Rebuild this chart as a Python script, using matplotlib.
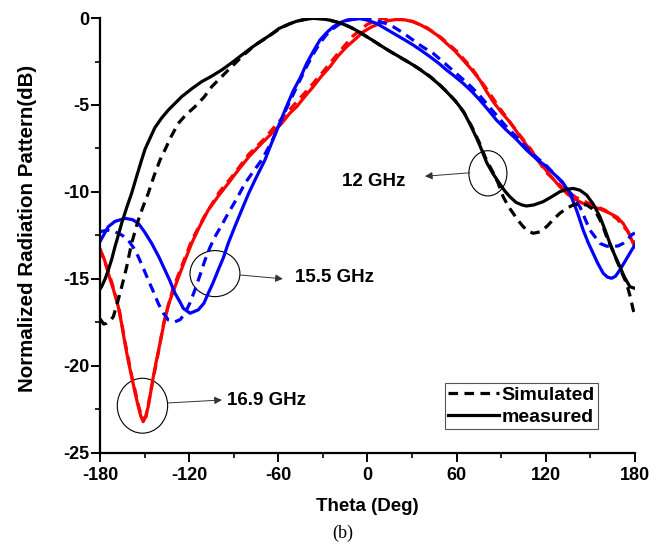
import matplotlib
matplotlib.use("Agg")
import matplotlib.pyplot as plt
from matplotlib.patches import Ellipse
from matplotlib.lines import Line2D

plt.rcParams['font.family'] = ['Liberation Sans', 'DejaVu Sans']
plt.rcParams['font.weight'] = 'bold'
plt.rcParams['axes.unicode_minus'] = False

# ---- data ----
theta_12_meas = [-180, -178.9, -176.5, -174.4, -172, -169.9, -167.5, -165.4, -162, -158.7, -155.3, -152, -149.7, -146, -143, -138.5, -134, -130, -125,
                 -118, -111.6, -105, -98.1, -91, -84.6, -78, -71.2, -65, -59.5, -53, -47.6, -42, -36.5, -31, -25.2, -20, -14, -8, -2.8,
                 3, 8.4, 14, 19.6, 25, 30.8, 36, 42.1, 48, 53.3, 59, 64.5, 69, 73.5, 77, 80.2, 84.5, 89.2, 92.5, 95.9, 100, 104, 107.1,
                 112, 118.3, 124, 129.5, 134, 138.5, 143, 147.5, 152, 156.5, 160, 163.2, 166.5, 169.9, 173, 176.6, 180]
db_12_meas = [-15.6, -15.45, -15.0, -14.5, -13.85, -13.15, -12.45, -11.8, -10.9, -10.08, -9.1, -8.17, -7.55, -6.85, -6.3, -5.75, -5.29, -4.95, -4.52,
              -4.05, -3.66, -3.35, -2.99, -2.55, -2.13, -1.7, -1.3, -0.95, -0.6, -0.35, -0.18, -0.07, -0.02, -0.04, -0.12, -0.24, -0.42, -0.68, -0.95,
              -1.25, -1.55, -1.85, -2.13, -2.4, -2.7, -3.0, -3.37, -3.8, -4.24, -4.75, -5.35, -6.1, -6.9, -7.6, -8.3, -8.95, -9.55, -9.95, -10.28, -10.6, -10.75, -10.81,
              -10.75, -10.56, -10.28, -9.99, -9.85, -9.8, -9.9, -10.18, -10.7, -11.43, -12.2, -12.96, -13.65, -14.3, -14.9, -15.45, -15.55]

theta_12_sim = [-180, -177.5, -175.5, -173, -171, -168.7, -166.5, -164, -162, -160.3, -158.7, -156.5, -154.2, -151, -147.5, -143.5, -139.6, -136.3, -132,
                -127.3, -122, -116.1, -110, -104.8, -99, -93.7, -89, -84.6, -80, -75.7, -70, -64, -58, -52, -46, -40, -35, -30, -24, -18, -12, -6,
                0, 6, 12, 18, 24, 30, 36, 42, 48, 54, 60, 65, 70, 75, 80, 85, 88, 91.4, 95, 98.1, 101.5, 104.9, 108, 111.6, 116, 120.6, 125,
                129.5, 134, 138.5, 143, 147.5, 151, 154.2, 158, 161, 164.5, 167.7, 171, 174.4, 176.8, 178.9, 180]
db_12_sim = [-17.3, -17.6, -17.56, -17.4, -17.18, -16.5, -15.83, -15.0, -14.3, -13.6, -12.96, -12.3, -11.62, -10.85, -10.08, -9.05, -8.17, -7.59, -6.8,
             -6.06, -5.55, -5.1, -4.55, -3.95, -3.45, -2.99, -2.6, -2.22, -1.88, -1.55, -1.25, -0.9, -0.55, -0.32, -0.15, -0.05, -0.01, -0.05, -0.15, -0.3, -0.5, -0.75,
             -1.1, -1.42, -1.75, -2.06, -2.36, -2.65, -2.98, -3.35, -3.78, -4.28, -4.85, -5.45, -6.2, -7.1, -8.15, -8.95, -9.5, -10.28, -10.85, -11.23, -11.65, -12.0, -12.25, -12.38, -12.3, -12.0, -11.6,
             -11.23, -10.95, -10.75, -10.7, -10.75, -10.95, -11.23, -11.85, -12.58, -13.25, -13.92, -14.6, -15.26, -16.0, -16.79, -17.1]

theta_155_meas = [-180, -174.4, -170, -163.2, -158, -154.2, -150, -145.2, -140, -136.3, -133, -129.5, -126, -123.9, -119.4, -113.9, -110, -107.1, -104,
                  -100.4, -97, -93.7, -89, -84.6, -80, -75.7, -69, -65, -60, -55, -50, -45, -40.9, -36, -32, -27, -23, -18, -14, -5,
                  0, 6.2, 12, 19.6, 25, 30.8, 36, 42.1, 48, 53.3, 58, 64.5, 70, 75.7, 81, 86.9, 93, 100, 107.1, 115, 120, 125.1, 131,
                  136.3, 141, 145.2, 148.5, 151.9, 155, 158.7, 161.5, 164.3, 167, 169.9, 173, 176.6, 180]
db_155_meas = [-12.86, -12.0, -11.7, -11.52, -11.6, -11.81, -12.3, -12.96, -13.8, -14.49, -15.1, -15.83, -16.35, -16.7, -16.98, -16.79, -16.4, -15.83, -15.25,
               -14.49, -13.8, -12.96, -11.95, -11.04, -10.1, -9.32, -8.17, -7.3, -6.25, -5.2, -4.2, -3.4, -2.61, -1.85, -1.27, -0.8, -0.5, -0.25, -0.12, -0.03,
               -0.12, -0.31, -0.6, -0.98, -1.25, -1.55, -1.85, -2.22, -2.6, -2.99, -3.3, -3.76, -4.2, -4.72, -5.25, -5.87, -6.4, -6.95, -7.59, -8.2, -8.5, -8.93, -9.4,
               -10.08, -11.1, -12.19, -12.9, -13.53, -14.1, -14.68, -14.9, -14.97, -14.85, -14.49, -14.05, -13.53, -13.05]

theta_155_sim = [-180, -175, -169.9, -165, -161, -157.5, -154.2, -151, -147.5, -144, -140.8, -137.5, -134, -129.5, -126, -122.8, -119.5, -116.1, -112.5,
                 -109.3, -106, -102.6, -98, -93.7, -88, -82.4, -77, -71.2, -65, -60, -55, -50, -45.4, -41, -36, -32, -28, -23, -18, -13, -7,
                 0, 6, 12, 17.4, 24, 30.8, 37, 44.3, 50, 56, 62, 68, 75, 81, 87, 93, 100, 107, 115, 120, 125, 131, 137, 143, 149.7,
                 156.5, 161, 165.4, 169, 172.1, 175, 177.8, 180]
db_155_sim = [-12.29, -12.2, -12.29, -12.5, -12.77, -13.2, -13.73, -14.35, -15.07, -15.75, -16.41, -16.95, -17.37, -17.47, -17.35, -16.98, -16.4, -15.64, -14.75,
              -13.92, -13.2, -12.58, -11.9, -11.23, -10.4, -9.51, -8.85, -8.17, -7.2, -6.3, -5.3, -4.4, -3.57, -2.8, -2.0, -1.45, -1.0, -0.6, -0.3, -0.12, -0.03,
              -0.05, -0.15, -0.3, -0.5, -0.85, -1.27, -1.65, -2.03, -2.45, -2.9, -3.35, -3.8, -4.4, -5.0, -5.6, -6.2, -6.8, -7.45, -8.1, -8.45, -8.9, -9.45, -10.1, -10.85, -12.19,
              -12.96, -13.12, -13.15, -13.1, -12.96, -12.75, -12.48, -12.35]

theta_169_meas = [-180, -177, -174.4, -171, -167.7, -165.4, -163.2, -161, -158.7, -156.5, -154.2, -152.5, -150.9, -149.2, -147.5, -145.8, -144.1, -142,
                  -139.6, -137, -134, -129.5, -124, -118.3, -113, -107.1, -100, -93.7, -86.9, -80, -71.2, -64, -57.7, -52, -47.6, -42, -36.5, -31,
                  -25.2, -20, -14, -8, -2.8, 3, 8.4, 14, 19.6, 25, 30.8, 36, 42.1, 48, 53.3, 59, 64.5, 70, 75.7, 80, 85, 90, 96, 101, 107,
                  112, 118.3, 124, 129.5, 135, 140.8, 146, 151.9, 157, 163.2, 168, 172.1, 175.5, 178.9, 180]
db_169_meas = [-13.34, -13.9, -14.68, -15.6, -16.6, -17.6, -18.71, -19.7, -20.63, -21.5, -22.35, -22.9, -23.22, -22.9, -22.35, -21.5, -20.63, -19.7,
               -18.71, -17.6, -16.5, -15.45, -14.2, -12.96, -12.0, -11.04, -10.2, -9.51, -8.74, -8.0, -7.21, -6.6, -6.06, -5.45, -5.1, -4.5, -3.95, -3.35,
               -2.8, -2.2, -1.65, -1.2, -0.79, -0.5, -0.31, -0.15, -0.08, -0.1, -0.21, -0.4, -0.69, -1.05, -1.46, -1.9, -2.42, -2.95, -3.57, -4.2, -4.85, -5.4, -6.0, -6.6, -7.3,
               -7.9, -8.55, -9.15, -9.7, -10.15, -10.47, -10.7, -10.85, -11.0, -11.23, -11.45, -11.81, -12.3, -12.96, -13.15]

theta_169_sim = [-180, -174.4, -167.7, -163.2, -158.7, -154.2, -151.5, -149, -145.8, -141.5, -137, -131, -124, -118.3, -110, -100, -90, -80, -70,
                 -60, -50, -40, -30, -20, -10, 0, 10, 20, 30, 40, 50, 60, 70, 80, 90, 100, 110, 120, 130, 140, 150, 160, 168, 175, 180]
db_169_sim = [-13.25, -14.55, -16.45, -18.6, -20.55, -22.25, -23.05, -22.95, -21.45, -19.6, -17.5, -15.6, -14.05, -12.8, -11.45, -10.05, -9.0, -7.85, -7.0,
              -6.0, -5.05, -4.1, -3.1, -2.05, -1.05, -0.35, -0.02, -0.03, -0.18, -0.55, -1.15, -1.9, -2.85, -4.05, -5.3, -6.45, -7.55, -8.85, -9.65, -10.3, -10.7, -11.05, -11.55, -12.25, -13.0]

x_ticks = [-180, -120, -60, 0, 60, 120, 180]
y_ticks = [0, -5, -10, -15, -20, -25]

# ---- figure ----
fig = plt.figure(figsize=(6.62, 5.48), dpi=100)
ax = fig.add_axes([0.151, 0.174, 0.808, 0.793])

lw = 2.3
dash = (3, 2)
ax.plot(theta_169_sim, db_169_sim, color='#ff0000', lw=lw, ls=(0, dash))
ax.plot(theta_169_meas, db_169_meas, color='#ff0000', lw=lw)
ax.plot(theta_155_sim, db_155_sim, color='#0000ff', lw=lw, ls=(0, dash))
ax.plot(theta_155_meas, db_155_meas, color='#0000ff', lw=lw)
ax.plot(theta_12_sim, db_12_sim, color='black', lw=lw, ls=(0, dash))
ax.plot(theta_12_meas, db_12_meas, color='black', lw=lw)

ax.set_xlim(-180, 180)
ax.set_ylim(-25, 0)
ax.set_xticks(x_ticks)
ax.set_yticks(y_ticks)
ax.set_xticks([-150, -90, -30, 30, 90, 150], minor=True)
ax.set_yticks([-2.5, -7.5, -12.5, -17.5, -22.5], minor=True)
ax.set_xticklabels([str(v) for v in x_ticks])
ax.set_yticklabels([str(v) for v in y_ticks])
for s in ['top', 'right']:
    ax.spines[s].set_visible(False)
for s in ['left', 'bottom']:
    ax.spines[s].set_linewidth(1.6)
ax.tick_params(which='major', direction='out', length=6.5, width=1.4, labelsize=13)
ax.tick_params(which='minor', direction='out', length=3.8, width=1.2)
ax.tick_params(axis='x', which='major', pad=4)
ax.tick_params(axis='y', which='major', pad=1)
for lab in ax.get_xticklabels() + ax.get_yticklabels():
    lab.set_fontweight('bold')

ax.set_xlabel('Theta (Deg)', fontsize=13.5, fontweight='bold', labelpad=10)
ax.set_ylabel('Normalized Radiation Pattern(dB)', fontsize=14.8, fontweight='bold')
ax.yaxis.set_label_coords(-0.118, 0.516)

# legend
handles = [Line2D([], [], color='black', lw=2.3, ls=(0, dash)),
           Line2D([], [], color='black', lw=2.3)]
leg = ax.legend(handles, ['Simulated', 'measured'], loc='lower right',
                bbox_to_anchor=(0.931, 0.054), fancybox=False, framealpha=1,
                edgecolor='#555555', handlelength=2.6, handletextpad=0.12,
                borderpad=0.18, labelspacing=0.22, borderaxespad=0,
                prop={'weight': 'bold', 'size': 14})
leg.get_frame().set_linewidth(0.8)

# annotations
ell_kw = dict(fill=False, edgecolor='black', lw=0.8)
ax.add_patch(Ellipse((81.1, -8.93), 25.6, 2.6, **ell_kw))
ax.add_patch(Ellipse((-102.6, -14.70), 33.6, 2.65, **ell_kw))
ax.add_patch(Ellipse((-151.4, -22.30), 33.9, 3.16, **ell_kw))

arr = dict(arrowstyle='-|>', lw=0.7, color='#333333', mutation_scale=11, shrinkA=0, shrinkB=0)
ax.annotate('', xy=(38.7, -9.1), xytext=(69.0, -8.9), arrowprops=arr)
ax.annotate('', xy=(-56.9, -15.0), xytext=(-85.8, -14.78), arrowprops=arr)
ax.annotate('', xy=(-97.9, -21.97), xytext=(-134.2, -22.14), arrowprops=arr)

ax.text(-17.4, -9.41, '12 GHz', fontsize=13.5, fontweight='bold', ha='left', va='center')
ax.text(-48.8, -14.95, '15.5 GHz', fontsize=13.5, fontweight='bold', ha='left', va='center')
ax.text(-94.5, -22.0, '16.9 GHz', fontsize=13.5, fontweight='bold', ha='left', va='center')

fig.text(0.518, 0.027, '(b)', fontsize=13, family='Liberation Serif', fontweight='normal',
         ha='center', va='center')

fig.savefig('out.png', dpi=100)
